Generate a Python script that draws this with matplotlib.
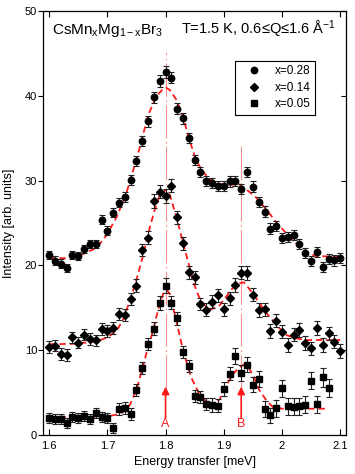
import matplotlib
matplotlib.use("Agg")
import matplotlib.pyplot as plt

plt.rcParams['font.family'] = ['Liberation Sans', 'DejaVu Sans']
plt.rcParams['mathtext.fontset'] = 'custom'
plt.rcParams['mathtext.rm'] = 'Liberation Sans'
plt.rcParams['mathtext.it'] = 'Liberation Sans:italic'

# energy transfer grid (meV)
energy = [1.60, 1.61, 1.62, 1.63, 1.64, 1.65, 1.66, 1.67, 1.68, 1.69,
          1.70, 1.71, 1.72, 1.73, 1.74, 1.75, 1.76, 1.77, 1.78, 1.79,
          1.80, 1.81, 1.82, 1.83, 1.84, 1.85, 1.86, 1.87, 1.88, 1.89,
          1.90, 1.91, 1.92, 1.93, 1.94, 1.95, 1.96, 1.97, 1.98, 1.99,
          2.00, 2.01, 2.02, 2.03, 2.04, 2.05, 2.06, 2.07, 2.08, 2.09, 2.10]

# x = 0.28 (circles)
int_028 = [21.2, 20.55, 20.2, 19.7, 21.2, 21.1, 21.95, 22.5, 22.55, 25.4,
           24.1, 26.2, 27.4, 28.05, 30.1, 32.3, 34.7, 37.0, 39.8, 41.75,
           42.85, 42.15, 38.45, 37.35, 35.0, 32.45, 31.0, 30.0, 29.75, 29.35,
           29.35, 29.9, 30.0, 29.05, 31.0, 29.3, 27.45, 26.35, 24.35, 24.6,
           23.27, 23.35, 23.58, 22.5, 21.45, 20.55, 21.55, 19.85, 20.72, 20.58, 20.9]
err_028 = [0.5, 0.5, 0.5, 0.5, 0.5, 0.5, 0.5, 0.5, 0.5, 0.55,
           0.55, 0.55, 0.55, 0.55, 0.6, 0.6, 0.6, 0.65, 0.65, 0.7,
           0.7, 0.7, 0.65, 0.65, 0.6, 0.6, 0.6, 0.6, 0.6, 0.6,
           0.6, 0.6, 0.6, 0.6, 0.6, 0.6, 0.6, 0.6, 0.6, 0.6,
           0.6, 0.6, 0.6, 0.6, 0.6, 0.6, 0.6, 0.6, 0.6, 0.6, 0.6]

# x = 0.14 (diamonds)
int_014 = [10.35, 10.55, 9.55, 9.43, 11.5, 10.9, 11.85, 11.35, 11.15, 12.5,
           12.25, 12.65, 14.3, 14.2, 16.05, 17.6, 21.8, 23.25, 27.6, 28.7,
           28.2, 29.4, 25.65, 22.6, 19.2, 18.6, 15.45, 14.78, 15.7, 16.45,
           14.8, 16.12, 17.7, 19.15, 19.08, 16.55, 14.75, 14.8, 12.25, 13.48,
           12.2, 10.6, 11.85, 12.38, 10.87, 10.22, 12.6, 10.62, 11.97, 11.0, 9.9]
err_014 = [0.7, 0.7, 0.7, 0.7, 0.7, 0.7, 0.7, 0.7, 0.7, 0.7,
           0.7, 0.7, 0.7, 0.7, 0.75, 0.75, 0.75, 0.75, 0.8, 0.8,
           0.8, 0.8, 0.8, 0.75, 0.75, 0.75, 0.75, 0.75, 0.75, 0.75,
           0.75, 0.75, 0.8, 0.8, 0.8, 0.8, 0.8, 0.8, 0.8, 0.8,
           0.8, 0.8, 0.8, 0.8, 0.8, 0.8, 0.8, 0.8, 0.8, 0.8, 0.8]

# x = 0.05 (squares), measured up to 2.08 meV
energy_005 = energy[:49]
int_005 = [2.0, 1.93, 1.93, 1.38, 2.16, 1.97, 2.24, 1.89, 2.56, 2.16,
           1.97, 0.86, 3.06, 3.14, 2.44, 5.31, 7.86, 10.73, 12.54, 15.55,
           17.6, 15.6, 13.76, 9.83, 8.14, 4.6, 4.44, 3.66, 3.54, 3.46,
           5.45, 7.25, 9.32, 7.3, 8.3, 5.95, 6.6, 3.07, 2.3, 3.18,
           5.5, 3.38, 3.34, 3.4, 3.54, 6.4, 3.62, 6.8, 5.55]
err_005 = [0.6, 0.6, 0.6, 0.6, 0.6, 0.6, 0.6, 0.6, 0.6, 0.6,
           0.6, 0.6, 0.7, 0.7, 0.7, 0.7, 0.7, 0.7, 0.8, 0.8,
           0.9, 0.8, 0.8, 0.7, 0.7, 0.7, 0.7, 0.7, 0.8, 0.8,
           0.8, 0.8, 0.9, 0.9, 0.9, 0.9, 0.9, 0.9, 0.9, 1.0,
           1.0, 1.0, 1.0, 1.0, 1.0, 1.0, 1.0, 1.1, 1.1]

# fitted curves
fit_e_028 = [1.600, 1.630, 1.659, 1.682, 1.699, 1.716, 1.733, 1.750, 1.756, 1.770,
             1.784, 1.796, 1.801, 1.807, 1.819, 1.830, 1.841, 1.853, 1.864, 1.875,
             1.893, 1.910, 1.927, 1.938, 1.955, 1.972, 1.990, 2.007, 2.024, 2.041,
             2.058, 2.081, 2.100]
fit_i_028 = [20.85, 20.85, 21.35, 22.1, 23.6, 25.7, 28.6, 32.5, 34.0, 37.7,
             39.9, 40.85, 40.95, 40.7, 39.5, 37.5, 34.8, 32.3, 31.1, 30.2,
             29.6, 29.5, 29.55, 29.0, 28.05, 26.7, 25.1, 23.8, 22.6, 21.6,
             21.1, 21.05, 21.05]

fit_e_014 = [1.600, 1.640, 1.680, 1.700, 1.716, 1.727, 1.739, 1.750, 1.762, 1.773,
             1.782, 1.790, 1.800, 1.807, 1.816, 1.824, 1.833, 1.842, 1.850, 1.858,
             1.867, 1.878, 1.893, 1.904, 1.915, 1.927, 1.935, 1.943, 1.955, 1.972,
             1.990, 2.007, 2.024, 2.041, 2.064, 2.100]
fit_i_014 = [10.7, 10.75, 11.0, 11.5, 12.3, 13.6, 15.9, 18.3, 21.3, 24.5,
             26.7, 28.3, 28.9, 28.4, 26.3, 24.3, 21.9, 19.6, 17.6, 16.2,
             15.3, 14.8, 15.3, 16.3, 17.3, 17.9, 18.0, 17.3, 16.2, 14.5,
             13.0, 11.8, 11.4, 11.2, 11.2, 11.2]

fit_e_005 = [1.600, 1.650, 1.699, 1.716, 1.730, 1.739, 1.750, 1.756, 1.767, 1.779,
             1.784, 1.790, 1.796, 1.8015, 1.807, 1.813, 1.819, 1.827, 1.836, 1.844,
             1.856, 1.870, 1.881, 1.893, 1.904, 1.915, 1.927, 1.935, 1.941, 1.950,
             1.961, 1.973, 1.984, 2.001, 2.024, 2.080]
fit_i_005 = [2.15, 2.15, 2.2, 2.4, 2.8, 3.6, 5.3, 6.8, 9.6, 12.4,
             13.9, 15.4, 16.7, 17.1, 16.7, 15.0, 13.3, 10.9, 8.6, 6.8,
             5.1, 3.9, 3.55, 4.2, 5.8, 7.1, 8.0, 8.3, 8.1, 7.1,
             5.3, 4.1, 3.3, 3.1, 3.1, 3.1]

# mode positions A and B
peak_pos = [1.80, 1.93]
peak_names = ['A', 'B']
peak_line_top = [45.2, 34.2]

xticks = [1.6, 1.7, 1.8, 1.9, 2.0, 2.1]
xtick_labels = ['1.6', '1.7', '1.8', '1.9', '2', '2.1']
yticks = [0, 10, 20, 30, 40, 50]


def desenhar():
    fig = plt.figure(figsize=(3.55, 4.74), dpi=100)
    ax = fig.add_axes([0.122, 0.0823, 0.8527, 0.8945])

    # dash-dot guides at the two modes
    for e, top in zip(peak_pos, peak_line_top):
        ax.plot([e, e], [5.6, top], color='#ff9090', lw=0.8,
                linestyle=(0, (30, 3, 1.5, 3)), zorder=1)

    fit_style = dict(color='#ff1a1a', lw=1.3, linestyle=(0, (3.5, 2.2)), zorder=2)
    ax.plot(fit_e_028, fit_i_028, **fit_style)
    ax.plot(fit_e_014, fit_i_014, **fit_style)
    ax.plot(fit_e_005, fit_i_005, **fit_style)

    eb = dict(fmt='none', ecolor='#222222', elinewidth=0.8, capsize=2.2,
              capthick=0.8, zorder=3)
    ax.errorbar(energy, int_028, yerr=err_028, **eb)
    ax.errorbar(energy, int_014, yerr=err_014, **eb)
    ax.errorbar(energy_005, int_005, yerr=err_005, **eb)

    ax.plot(energy, int_028, 'o', color='black', ms=4.6, ls='none', label='x=0.28', zorder=4)
    ax.plot(energy, int_014, 'D', color='black', ms=4.2, ls='none', label='x=0.14', zorder=4)
    ax.plot(energy_005, int_005, 's', color='black', ms=4.3, ls='none', label='x=0.05', zorder=4)

    # arrows A and B
    for e, nome in zip(peak_pos, peak_names):
        ax.annotate('', xy=(e, 5.7), xytext=(e, 2.0),
                    arrowprops=dict(arrowstyle='-|>', color='#ff1a1a', lw=1.2,
                                    mutation_scale=11, shrinkA=0, shrinkB=0))
        ax.text(e, 1.3, nome, color='#ff1a1a', fontsize=9, ha='center', va='center')

    ax.set_xlim(1.59, 2.11)
    ax.set_ylim(0, 50)
    ax.set_xticks(xticks)
    ax.set_xticklabels(xtick_labels)
    ax.set_yticks(yticks)
    ax.tick_params(axis='x', direction='in', length=4, width=0.8, labelsize=8,
                   pad=4, top=True)
    ax.tick_params(axis='y', direction='out', length=3.5, width=0.8, labelsize=8,
                   pad=1)
    ax.tick_params(axis='y', which='both', right=True)
    for t in ax.yaxis.get_major_ticks():
        t.tick2line.set_marker(matplotlib.lines.TICKLEFT)
        t.tick2line.set_markersize(3.5)
    for s in ax.spines.values():
        s.set_linewidth(0.9)

    ax.set_xlabel('Energy transfer [meV]', fontsize=9)
    ax.xaxis.set_label_coords(0.5, -0.05)
    ax.set_ylabel('Intensity [arb. units]', fontsize=9)
    ax.yaxis.set_label_coords(-0.095, 0.5)

    ax.text(0.028, 0.945, r'CsMn$_\mathregular{x}$Mg$_\mathregular{1-x}$Br$_\mathregular{3}$',
            transform=ax.transAxes, fontsize=11, ha='left', va='baseline')
    ax.text(0.968, 0.945, 'T=1.5 K, 0.6\u2264Q\u22641.6 \u00c5$^\\mathregular{-1}$',
            transform=ax.transAxes, fontsize=10.5, ha='right', va='baseline')

    leg = ax.legend(loc='upper left', bbox_to_anchor=(0.633, 0.883), fontsize=8.5,
                    frameon=True, fancybox=False, edgecolor='black', framealpha=1,
                    handlelength=2.5, handletextpad=0.45, borderpad=0.4,
                    labelspacing=0.38, borderaxespad=0)
    leg.get_frame().set_linewidth(0.8)

    fig.savefig('out.png', dpi=100)


if __name__ == "__main__":
    desenhar()
